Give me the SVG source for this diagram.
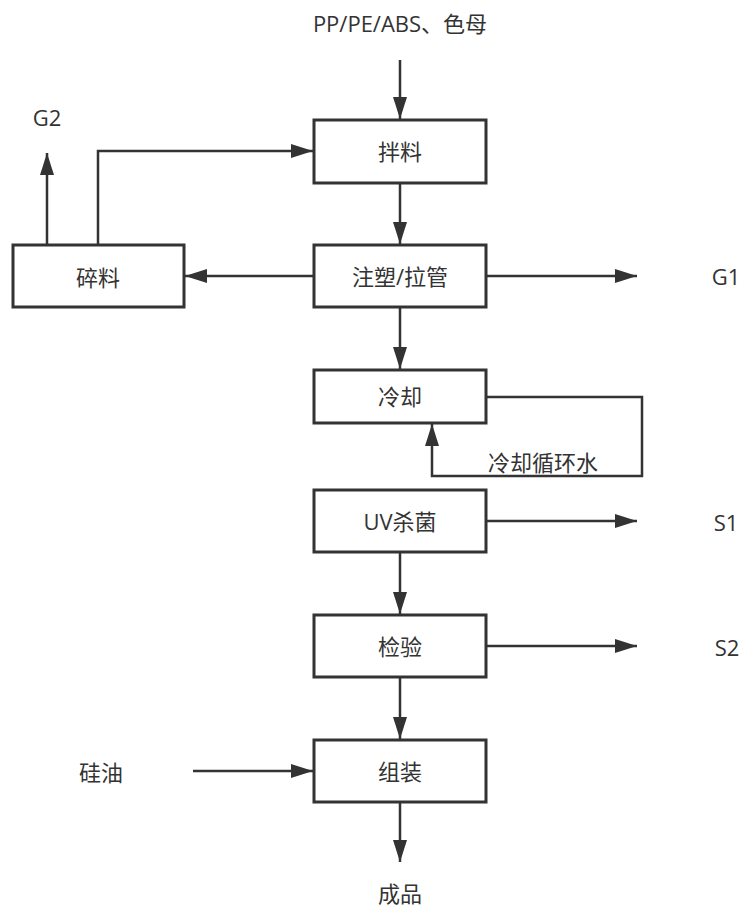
<svg xmlns="http://www.w3.org/2000/svg" width="742" height="909" viewBox="0 0 742 909">
<style>
  .box { fill: #ffffff; stroke: #333333; stroke-width: 3; }
  .lbl { font-family: "Open Sans", "Noto Sans CJK SC", sans-serif; font-size: 22px; fill: #333333; text-anchor: middle; dominant-baseline: central; }
  .conn { fill: none; stroke: #333333; stroke-width: 2.5; }
</style>
<defs>
  <marker id="arr" markerUnits="userSpaceOnUse" markerWidth="22" markerHeight="14" refX="22" refY="7" orient="auto">
    <path d="M0,0 L22,7 L0,14 z" fill="#333333"/>
  </marker>
</defs>
<rect width="742" height="909" fill="#ffffff"/>

<g id="connectors">
  <path class="conn" d="M400,60 V119" marker-end="url(#arr)"/>
  <path class="conn" d="M400,183 V244" marker-end="url(#arr)"/>
  <path class="conn" d="M314,276 H185" marker-end="url(#arr)"/>
  <path class="conn" d="M486,276 H637" marker-end="url(#arr)"/>
  <path class="conn" d="M47,245 V153" marker-end="url(#arr)"/>
  <path class="conn" d="M98,245 V151 H313" marker-end="url(#arr)"/>
  <path class="conn" d="M400,307 V369" marker-end="url(#arr)"/>
  <path class="conn" d="M486,397 H642 V476 H432 V424" marker-end="url(#arr)"/>
  <path class="conn" d="M486,521 H637" marker-end="url(#arr)"/>
  <path class="conn" d="M400,552 V614" marker-end="url(#arr)"/>
  <path class="conn" d="M486,646 H637" marker-end="url(#arr)"/>
  <path class="conn" d="M400,677 V739" marker-end="url(#arr)"/>
  <path class="conn" d="M193,771 H313" marker-end="url(#arr)"/>
  <path class="conn" d="M400,802 V862" marker-end="url(#arr)"/>
</g>

<g id="n-input"><text class="lbl" x="400" y="23">PP/PE/ABS、色母</text></g>
<g id="n-mix"><rect class="box" x="314" y="120" width="172" height="63"/><text class="lbl" x="400" y="151">拌料</text></g>
<g id="n-mold"><rect class="box" x="314" y="245" width="172" height="62"/><text class="lbl" x="400" y="276">注塑/拉管</text></g>
<g id="n-crush"><rect class="box" x="13" y="245" width="171" height="62"/><text class="lbl" x="98" y="277">碎料</text></g>
<g id="n-g2"><text class="lbl" x="47" y="117">G2</text></g>
<g id="n-g1"><text class="lbl" x="726" y="276">G1</text></g>
<g id="n-cool"><rect class="box" x="314" y="370" width="172" height="53"/><text class="lbl" x="400" y="396">冷却</text></g>
<g id="n-water"><text class="lbl" x="543" y="462">冷却循环水</text></g>
<g id="n-uv"><rect class="box" x="314" y="490" width="172" height="62"/><text class="lbl" x="400" y="521">UV杀菌</text></g>
<g id="n-s1"><text class="lbl" x="726" y="522">S1</text></g>
<g id="n-check"><rect class="box" x="314" y="615" width="172" height="62"/><text class="lbl" x="400" y="646">检验</text></g>
<g id="n-s2"><text class="lbl" x="727" y="647">S2</text></g>
<g id="n-assemble"><rect class="box" x="314" y="740" width="172" height="62"/><text class="lbl" x="400" y="771">组装</text></g>
<g id="n-oil"><text class="lbl" x="101" y="772">硅油</text></g>
<g id="n-product"><text class="lbl" x="400" y="893">成品</text></g>
</svg>
